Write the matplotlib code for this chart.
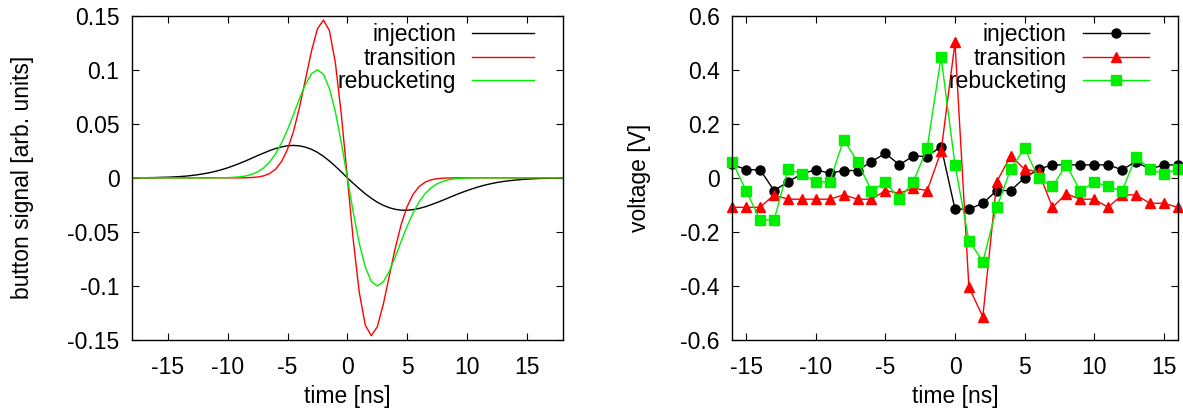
import matplotlib
matplotlib.use("Agg")
import matplotlib.pyplot as plt

plt.rcParams['font.family'] = ['Liberation Sans', 'DejaVu Sans']
plt.rcParams['axes.unicode_minus'] = False

# ---------------- data: left panel (simulated button signals) ----------------
t_curve = [-18.0, -17.5, -17.0, -16.5, -16.0, -15.5, -15.0, -14.5, -14.0, -13.5,
           -13.0, -12.5, -12.0, -11.5, -11.0, -10.5, -10.0, -9.5, -9.0, -8.5,
           -8.0, -7.5, -7.0, -6.5, -6.0, -5.5, -5.0, -4.5, -4.0, -3.5,
           -3.0, -2.5, -2.0, -1.5, -1.0, -0.5, 0.0, 0.5, 1.0, 1.5,
           2.0, 2.5, 3.0, 3.5, 4.0, 4.5, 5.0, 5.5, 6.0, 6.5,
           7.0, 7.5, 8.0, 8.5, 9.0, 9.5, 10.0, 10.5, 11.0, 11.5,
           12.0, 12.5, 13.0, 13.5, 14.0, 14.5, 15.0, 15.5, 16.0, 16.5,
           17.0, 17.5, 18.0]

sig_injection = [0.0001, 0.0001, 0.0001, 0.0002, 0.0003, 0.0005, 0.0006, 0.0009, 0.0012, 0.0016,
                 0.0022, 0.0029, 0.0038, 0.0048, 0.0061, 0.0076, 0.0093, 0.0113, 0.0134, 0.0157,
                 0.0181, 0.0206, 0.0229, 0.0252, 0.0271, 0.0286, 0.0297, 0.0300, 0.0296, 0.0284,
                 0.0264, 0.0236, 0.0199, 0.0156, 0.0107, 0.0055, 0.0, -0.0051, -0.0101, -0.0147,
                 -0.0189, -0.0225, -0.0254, -0.0276, -0.0291, -0.0299, -0.0299, -0.0294, -0.0283, -0.0268,
                 -0.0249, -0.0228, -0.0206, -0.0183, -0.0160, -0.0138, -0.0118, -0.0099, -0.0082, -0.0067,
                 -0.0054, -0.0043, -0.0034, -0.0027, -0.0021, -0.0016, -0.0012, -0.0009, -0.0006, -0.0005,
                 -0.0003, -0.0002, -0.0002]

sig_transition = [0.0, 0.0, 0.0, 0.0, 0.0, 0.0, 0.0, 0.0, 0.0, 0.0,
                  0.0, 0.0, 0.0, 0.0, 0.0, 0.0, 0.0, 0.0, 0.0, 0.0001,
                  0.0003, 0.0008, 0.0018, 0.0040, 0.0080, 0.0151, 0.0264, 0.0431, 0.0652, 0.0911,
                  0.1172, 0.1378, 0.1460, 0.1363, 0.1062, 0.0583, 0.0, -0.0583, -0.1062, -0.1363,
                  -0.1460, -0.1378, -0.1172, -0.0911, -0.0652, -0.0431, -0.0264, -0.0151, -0.0080, -0.0040,
                  -0.0018, -0.0008, -0.0003, -0.0001, 0.0, 0.0, 0.0, 0.0, 0.0, 0.0,
                  0.0, 0.0, 0.0, 0.0, 0.0, 0.0, 0.0, 0.0, 0.0, 0.0,
                  0.0, 0.0, 0.0]

sig_rebucketing = [0.0, 0.0, 0.0, 0.0, 0.0, 0.0, 0.0, 0.0, 0.0, 0.0,
                   0.0, 0.0, 0.0, 0.0, 0.0, 0.0001, 0.0002, 0.0005, 0.0009, 0.0017,
                   0.0032, 0.0055, 0.0092, 0.0146, 0.0222, 0.0323, 0.0446, 0.0587, 0.0733, 0.0866,
                   0.0963, 0.1000, 0.0958, 0.0826, 0.0609, 0.0323, 0.0, -0.0323, -0.0609, -0.0826,
                   -0.0958, -0.1000, -0.0963, -0.0866, -0.0733, -0.0587, -0.0446, -0.0323, -0.0222, -0.0146,
                   -0.0092, -0.0055, -0.0032, -0.0017, -0.0009, -0.0005, -0.0002, -0.0001, 0.0, 0.0,
                   0.0, 0.0, 0.0, 0.0, 0.0, 0.0, 0.0, 0.0, 0.0, 0.0,
                   0.0, 0.0, 0.0]

# ---------------- data: right panel (measured voltages) ----------------
t_meas = [-16, -15, -14, -13, -12, -11, -10, -9, -8, -7, -6, -5, -4, -3, -2, -1, 0,
          1, 2, 3, 4, 5, 6, 7, 8, 9, 10, 11, 12, 13, 14, 15, 16]

v_injection = [0.050, 0.030, 0.030, -0.047, -0.015, 0.015, 0.030, 0.017, 0.027, 0.027,
               0.060, 0.091, 0.048, 0.081, 0.079, 0.116, -0.116,
               -0.116, -0.094, -0.047, -0.047, 0.000, 0.032, 0.048, 0.048, 0.048,
               0.048, 0.048, 0.030, 0.060, 0.032, 0.048, 0.048]

v_transition = [-0.109, -0.109, -0.109, -0.063, -0.079, -0.079, -0.079, -0.079, -0.063, -0.079,
                -0.079, -0.047, -0.057, -0.038, -0.047, 0.098, 0.501,
                -0.405, -0.514, -0.014, 0.081, 0.032, 0.023, -0.109, -0.059, -0.079,
                -0.079, -0.109, -0.063, -0.063, -0.094, -0.094, -0.109]

v_rebucketing = [0.060, -0.049, -0.156, -0.156, 0.032, 0.015, -0.015, -0.015, 0.141, 0.060,
                 -0.049, -0.015, -0.079, -0.015, 0.110, 0.447, 0.048,
                 -0.232, -0.310, -0.109, 0.032, 0.110, -0.001, -0.032, 0.048, -0.049,
                 -0.015, -0.032, -0.049, 0.079, 0.032, 0.015, 0.032]

labels = ["injection", "transition", "rebucketing"]
left_yticks = [-0.15, -0.1, -0.05, 0, 0.05, 0.1, 0.15]
left_yticklabels = ["-0.15", "-0.1", "-0.05", "0", "0.05", "0.1", "0.15"]
right_yticks = [-0.6, -0.4, -0.2, 0, 0.2, 0.4, 0.6]
right_yticklabels = ["-0.6", "-0.4", "-0.2", "0", "0.2", "0.4", "0.6"]
xticks = [-15, -10, -5, 0, 5, 10, 15]
xticklabels = ["-15", "-10", "-5", "0", "5", "10", "15"]

BLACK = "#000000"
RED = "#ff0000"
GREEN = "#00ee00"
FS = 16.5

fig = plt.figure(figsize=(11.83, 4.15), dpi=100)
ax1 = fig.add_axes([132 / 1183, 75 / 415, 430.7 / 1183, 324.3 / 415])
ax2 = fig.add_axes([732.3 / 1183, 75 / 415, 445.4 / 1183, 324.3 / 415])


def style(ax):
    for s in ax.spines.values():
        s.set_linewidth(1.0)
    ax.tick_params(direction="in", length=5, width=0.8, top=True, right=True,
                   labelsize=FS)
    ax.tick_params(axis="y", pad=9)
    ax.tick_params(axis="x", pad=11.5)


# left panel
ax1.plot(t_curve, sig_injection, color=BLACK, lw=1.0, label=labels[0])
ax1.plot(t_curve, sig_transition, color=RED, lw=1.0, label=labels[1])
ax1.plot(t_curve, sig_rebucketing, color=GREEN, lw=1.0, label=labels[2])
ax1.set_xlim(-18, 18)
ax1.set_ylim(-0.15, 0.15)
ax1.set_xticks(xticks)
ax1.set_xticklabels(xticklabels)
ax1.set_yticks(left_yticks)
ax1.set_yticklabels(left_yticklabels)
ax1.set_xlabel("time [ns]", fontsize=FS)
ax1.set_ylabel("button signal [arb. units]", fontsize=FS)
ax1.xaxis.set_label_coords(0.5, -0.139)
ax1.yaxis.set_label_coords(-0.2275, 0.5)
style(ax1)
ax1.legend(loc="upper right", bbox_to_anchor=(0.934, 0.978), frameon=False,
           markerfirst=False, fontsize=FS, handlelength=2.7, handletextpad=0.7,
           labelspacing=0.03, borderpad=0, borderaxespad=0)

# right panel
ax2.plot(t_meas, v_injection, color=BLACK, lw=1.0, marker="o", ms=6.5,
         label=labels[0], clip_on=False)
ax2.plot(t_meas, v_transition, color=RED, lw=1.0, marker="^", ms=6.5,
         label=labels[1], clip_on=False)
ax2.plot(t_meas, v_rebucketing, color=GREEN, lw=1.0, marker="s", ms=7.5,
         label=labels[2], clip_on=False)
ax2.set_xlim(-16, 16)
ax2.set_ylim(-0.6, 0.6)
ax2.set_xticks(xticks)
ax2.set_xticklabels(xticklabels)
ax2.set_yticks(right_yticks)
ax2.set_yticklabels(right_yticklabels)
ax2.set_xlabel("time [ns]", fontsize=FS)
ax2.set_ylabel("voltage [V]", fontsize=FS)
ax2.xaxis.set_label_coords(0.5, -0.139)
ax2.yaxis.set_label_coords(-0.1825, 0.5)
style(ax2)
ax2.legend(loc="upper right", bbox_to_anchor=(0.936, 0.978), frameon=False,
           markerfirst=False, fontsize=FS, handlelength=2.9, handletextpad=0.7,
           labelspacing=0.03, borderpad=0, borderaxespad=0)

fig.savefig("out.png", dpi=100)
